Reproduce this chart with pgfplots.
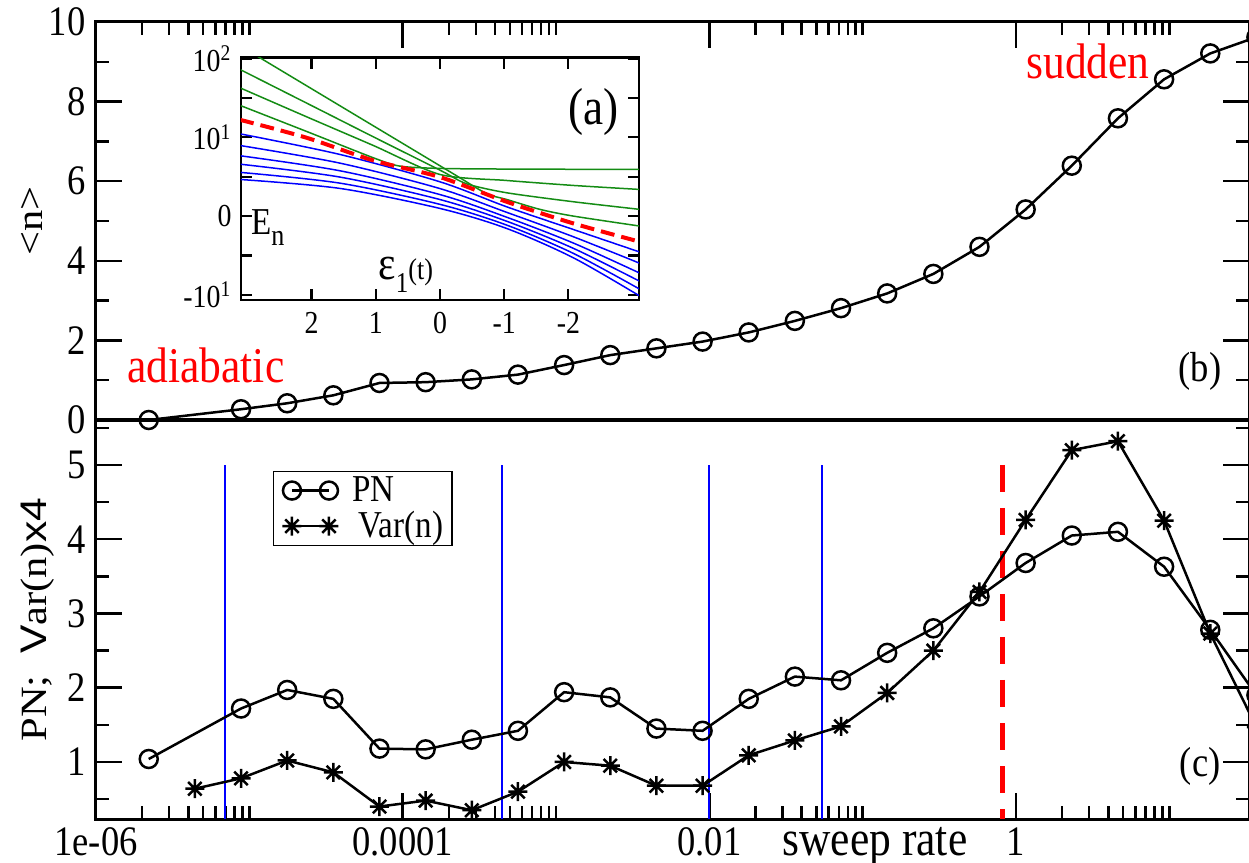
\documentclass[border=0pt]{standalone}
\usepackage{fontspec}
\setmainfont{Liberation Serif}[FakeStretch=0.87]
\newfontfamily\rotfont{Liberation Serif}[FakeStretch=1.15]
\newfontfamily\rotsans{Liberation Sans}[FakeStretch=1.15]
\usepackage{pgfplots}
\usepackage{pgfplotstable}
\pgfplotsset{compat=1.18}
\definecolor{ggreen}{RGB}{20,140,20}

\newcommand\tk{\fontsize{16.8}{18}\selectfont}
\newcommand\lbsz{\fontsize{20}{21}\selectfont}
\newcommand\rdsz{\fontsize{20}{21}\selectfont}
\newcommand\lgsz{\fontsize{15.2}{15.5}\selectfont}
\newcommand\insz{\fontsize{12.8}{13}\selectfont}

% 8-spoke star like the xmgrace symbol
\pgfdeclareplotmark{star8}{%
  \pgfpathmoveto{\pgfqpoint{-\pgfplotmarksize}{0pt}}\pgfpathlineto{\pgfqpoint{\pgfplotmarksize}{0pt}}%
  \pgfpathmoveto{\pgfqpoint{0pt}{-\pgfplotmarksize}}\pgfpathlineto{\pgfqpoint{0pt}{\pgfplotmarksize}}%
  \pgfpathmoveto{\pgfqpoint{-0.707\pgfplotmarksize}{-0.707\pgfplotmarksize}}\pgfpathlineto{\pgfqpoint{0.707\pgfplotmarksize}{0.707\pgfplotmarksize}}%
  \pgfpathmoveto{\pgfqpoint{-0.707\pgfplotmarksize}{0.707\pgfplotmarksize}}\pgfpathlineto{\pgfqpoint{0.707\pgfplotmarksize}{-0.707\pgfplotmarksize}}%
  \pgfusepathqstroke}

% <n> versus sweep rate
\pgfplotstableread{
x y
2.208e-6 0.0
8.831e-6 0.27
1.766e-5 0.42
3.532e-5 0.62
7.063e-5 0.93
1.4125e-4 0.95
2.825e-4 1.02
5.649e-4 1.14
1.1298e-3 1.38
2.259e-3 1.63
4.518e-3 1.80
9.036e-3 1.97
1.807e-2 2.20
3.614e-2 2.49
7.227e-2 2.81
0.14454 3.18
0.2891 3.67
0.5781 4.35
1.1562 5.29
2.312 6.39
4.624 7.58
9.248 8.56
18.50 9.21
36.99 9.62
}\tabN

\pgfplotstableread{
x y
2.208e-6 1.04
8.831e-6 1.72
1.766e-5 1.97
3.532e-5 1.85
7.063e-5 1.18
1.4125e-4 1.17
2.825e-4 1.30
5.649e-4 1.42
1.1298e-3 1.94
2.259e-3 1.87
4.518e-3 1.45
9.036e-3 1.42
1.807e-2 1.85
3.614e-2 2.15
7.227e-2 2.10
0.14454 2.47
0.2891 2.80
0.5781 3.23
1.1562 3.68
2.312 4.05
4.624 4.10
9.248 3.63
18.50 2.78
36.99 1.90
}\tabPN

\pgfplotstableread{
x y
4.416e-6 0.64
8.831e-6 0.78
1.766e-5 1.02
3.532e-5 0.86
7.063e-5 0.40
1.4125e-4 0.48
2.825e-4 0.35
5.649e-4 0.60
1.1298e-3 1.00
2.259e-3 0.95
4.518e-3 0.68
9.036e-3 0.68
1.807e-2 1.09
3.614e-2 1.29
7.227e-2 1.48
0.14454 1.93
0.2891 2.50
0.5781 3.29
1.1562 4.26
2.312 5.20
4.624 5.32
9.248 4.25
18.50 2.73
36.99 1.47
}\tabVar

\begin{document}
\begin{tikzpicture}

% ---- panel (b)
\begin{axis}[
  scale only axis, width=461.2pt, height=159.2pt,
  at={(0pt,159.72pt)}, anchor=south west,
  xmode=log, xmin=1e-6, xmax=33.09,
  xtick={1e-6,1e-4,1e-2,1},
  minor xtick={2e-6,3e-6,4e-6,5e-6,6e-6,7e-6,8e-6,9e-6,1e-5,2e-4,3e-4,4e-4,5e-4,6e-4,7e-4,8e-4,9e-4,1e-3,0.02,0.03,0.04,0.05,0.06,0.07,0.08,0.09,0.1,2,3,4,5,6,7,8,9,10},
  tick align=inside, major tick length=10.4pt, minor tick length=5.2pt,
  tick style={black, line width=1pt},
  axis line style={line width=1.2pt},
  ytick pos=both, xtick pos=right, xticklabels={},
  tick label style={font=\tk, inner sep=0pt},
  yticklabel style={xshift=-4pt},
  clip=false,
  ymin=0, ymax=10,
  ytick={0,2,4,6,8,10}, yticklabels={0,2,4,6,8,10}, minor ytick={1,3,5,7,9},
  ylabel={<n>},
  ylabel style={font=\rotfont\fontsize{14.8}{16}\selectfont, at={(rel axis cs:-0.0555,0.5)}, anchor=center, inner sep=0pt},
]
\draw[line width=1.4pt] (rel axis cs:0,0) -- (rel axis cs:1,0);
\addplot[black, line width=1pt, mark=o, mark size=3.6pt, mark options={solid}] table {\tabN};
\node[red, font=\rdsz, anchor=base west, inner sep=0pt] at (axis cs:1.59e-6,0.93) {adiabatic};
\node[red, font=\rdsz, anchor=base west, inner sep=0pt] at (axis cs:1.16,8.59) {sudden};
\node[font=\tk, inner sep=0pt] at (axis cs:15.85,1.21) {(b)};
\end{axis}

% ---- panel (c)
\begin{axis}[
  scale only axis, width=461.2pt, height=159.72pt,
  at={(0pt,0pt)}, anchor=south west,
  xmode=log, xmin=1e-6, xmax=33.09,
  xtick={1e-6,1e-4,1e-2,1},
  minor xtick={2e-6,3e-6,4e-6,5e-6,6e-6,7e-6,8e-6,9e-6,1e-5,2e-4,3e-4,4e-4,5e-4,6e-4,7e-4,8e-4,9e-4,1e-3,0.02,0.03,0.04,0.05,0.06,0.07,0.08,0.09,0.1,2,3,4,5,6,7,8,9,10},
  tick align=inside, major tick length=10.4pt, minor tick length=5.2pt,
  tick style={black, line width=1pt},
  axis line style={line width=1.2pt},
  ytick pos=both, xtick pos=left,
  tick label style={font=\tk, inner sep=0pt},
  yticklabel style={xshift=-4pt},
  clip=false,
  ymin=0.228, ymax=5.606,
  ytick={1,2,3,4,5}, yticklabels={1,2,3,4,5}, minor ytick={0.5,1.5,2.5,3.5,4.5,5.5},
  xticklabels={1e-06,0.0001,0.01,1},
  xticklabel style={anchor=base, yshift=-14.28pt},
  xlabel={sweep rate},
  xlabel style={font=\lbsz, at={(rel axis cs:0.6756,0)}, anchor=base, yshift=-14.28pt, inner sep=0pt},
  ylabel={PN;\ \ {\rotsans V}ar(n){\rotsans x4}},
  ylabel style={font=\rotfont\fontsize{14.8}{16}\selectfont, at={(rel axis cs:-0.0503,0.5)}, anchor=center, inner sep=0pt},
  legend style={at={(rel axis cs:0.1535,0.8723)}, anchor=north west, draw=black, line width=0.6pt,
    font=\lgsz, inner xsep=3.5pt, inner ysep=1.8pt, row sep=2.5pt, cells={anchor=west}, nodes={inner sep=0pt},
    /tikz/every odd column/.append style={column sep=5.5pt}},
  legend image code/.code={\draw[mark repeat=1,#1] plot coordinates {(0pt,0pt) (14.8pt,0pt)};},
]
\addplot[blue, line width=0.8pt, forget plot] coordinates {(6.93e-6,0.228) (6.93e-6,5)};
\addplot[blue, line width=0.8pt, forget plot] coordinates {(4.43e-4,0.228) (4.43e-4,5)};
\addplot[blue, line width=0.8pt, forget plot] coordinates {(9.95e-3,0.228) (9.95e-3,5)};
\addplot[blue, line width=0.8pt, forget plot] coordinates {(0.0543,0.228) (0.0543,5)};
\addplot[red, line width=2pt, dash pattern=on 10.8pt off 6.4pt, forget plot] coordinates {(0.822,5) (0.822,0.228)};
\addplot[black, line width=1pt, mark=o, mark size=3.6pt, mark options={solid}] table {\tabPN};
\addlegendentry{PN}
\addplot[black, line width=1pt, mark=star8, mark size=3.8pt, mark options={solid}] table {\tabVar};
\addlegendentry{\,Var(n)}
\node[font=\tk, inner sep=0pt] at (axis cs:15.9,0.946) {(c)};
\end{axis}

% ---- inset (a)
\begin{axis}[at={(58pt,207.72pt)}, anchor=south west, scale only axis, width=159.2pt, height=96.9pt,
  xmin=-3.1, xmax=3.1, x dir=reverse, ymin=-1.065, ymax=2.01,
  xtick={-2,-1,0,1,2}, xticklabels={-2,-1,0,1,2},
  ytick={-1,-0.5,0,0.5,1,1.5,2},
  yticklabels={-10\textsuperscript{1},,0,,10\textsuperscript{1},,10\textsuperscript{2}},
  tick align=inside, major tick length=4.4pt, tick style={black, line width=0.9pt},
  xtick pos=both, ytick pos=both, xticklabel pos=left, yticklabel pos=left,
  axis line style={line width=1.1pt},
  axis background/.style={fill=white},
  tick label style={font=\insz, inner sep=0pt},
  xticklabel style={yshift=-4.8pt},
  yticklabel style={xshift=-3.6pt},
]
% green levels
\addplot[ggreen, line width=0.6pt, smooth, tension=0.45] coordinates {(3.115,2.16) (2.804,2.009) (1.558,1.400) (0.519,0.892) (-0.260,0.511) (-0.727,0.284) (-1.038,0.211) (-1.558,0.085) (-2.077,0.0) (-3.115,-0.127)};
\addplot[ggreen, line width=0.6pt, smooth, tension=0.45] coordinates {(3.115,1.861) (2.077,1.434) (1.038,1.006) (0.0,0.583) (-0.415,0.410) (-1.038,0.296) (-2.077,0.182) (-3.115,0.085)};
\addplot[ggreen, line width=0.6pt, smooth, tension=0.45] coordinates {(3.115,1.628) (2.077,1.260) (1.038,0.896) (0.0,0.528) (-1.038,0.452) (-2.077,0.389) (-3.115,0.338)};
\addplot[ggreen, line width=0.6pt, smooth, tension=0.45] coordinates {(3.115,1.405) (2.077,1.074) (1.038,0.740) (0.623,0.634) (0.0,0.605) (-1.038,0.597) (-3.115,0.592)};
% blue levels
\addplot[blue, line width=0.6pt, smooth] coordinates {(3.115,1.044) (1.558,0.782) (0.0,0.435) (-1.038,0.118) (-2.077,-0.170) (-3.115,-0.457)};
\addplot[blue, line width=0.6pt, smooth] coordinates {(3.115,0.896) (1.558,0.672) (0.0,0.349) (-1.038,0.048) (-2.077,-0.262) (-3.115,-0.600)};
\addplot[blue, line width=0.6pt, smooth] coordinates {(3.115,0.766) (1.558,0.575) (0.0,0.273) (-1.038,-0.014) (-2.077,-0.342) (-3.115,-0.725)};
\addplot[blue, line width=0.6pt, smooth] coordinates {(3.115,0.659) (1.558,0.495) (0.0,0.210) (-1.038,-0.065) (-2.077,-0.409) (-3.115,-0.829)};
\addplot[blue, line width=0.6pt, smooth] coordinates {(3.115,0.555) (1.558,0.418) (0.0,0.149) (-1.038,-0.114) (-2.077,-0.473) (-3.115,-0.929)};
\addplot[blue, line width=0.6pt, smooth] coordinates {(3.115,0.465) (1.558,0.351) (0.0,0.097) (-1.038,-0.157) (-2.077,-0.529) (-3.115,-1.016)};
% red dashed level
\addplot[red, line width=1.6pt, dash pattern=on 5.6pt off 2.8pt, smooth] coordinates {(3.115,1.222) (2.077,0.994) (1.038,0.706) (0.0,0.495) (-1.038,0.182) (-2.077,-0.093) (-3.115,-0.326)};
\node[font=\fontsize{20.8}{21}\selectfont, inner sep=0pt] at (axis cs:-2.39,1.317) {(a)};
\node[anchor=base west, inner sep=0pt] at (axis cs:2.95,-0.238) {\fontsize{15.2}{16}\selectfont E\raisebox{-4.4pt}{\fontsize{12}{13}\selectfont n}};
\node[anchor=base west, inner sep=0pt] at (axis cs:0.966,-0.808) {\fontsize{19}{20}\selectfont ε\raisebox{-5.2pt}{\fontsize{11.5}{12}\selectfont 1}\fontsize{12}{13}\selectfont (t)};
\end{axis}

\pgfresetboundingbox
\path[use as bounding box] (-38.4pt,-17.08pt) rectangle (461.2pt,327.72pt);
\end{tikzpicture}
\end{document}
